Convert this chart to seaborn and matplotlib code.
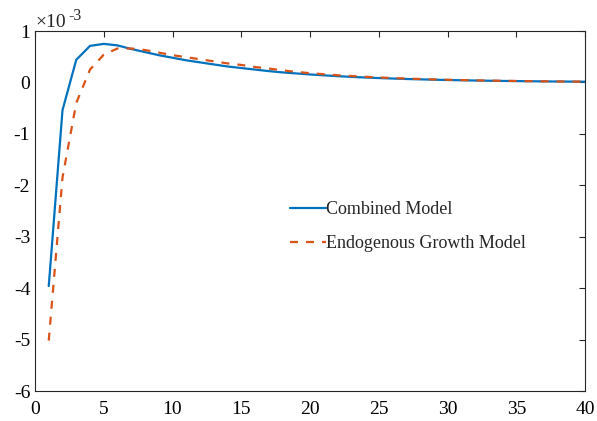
import numpy as np
import pandas as pd
import matplotlib
matplotlib.use("Agg")
import matplotlib.pyplot as plt
import seaborn as sns

# Impulse responses (units of 1e-3), periods 1..40
periods = list(range(1, 41))
combined = [-3.96, -0.54, 0.44, 0.71, 0.75, 0.72, 0.65, 0.59, 0.53, 0.48,
            0.43, 0.39, 0.35, 0.31, 0.28, 0.25, 0.22, 0.195, 0.175, 0.155,
            0.138, 0.122, 0.108, 0.096, 0.085, 0.076, 0.067, 0.060, 0.053, 0.047,
            0.042, 0.037, 0.033, 0.029, 0.026, 0.023, 0.020, 0.018, 0.016, 0.014]
endogenous = [-5.02, -1.85, -0.40, 0.25, 0.54, 0.66, 0.66, 0.63, 0.58, 0.53,
              0.49, 0.45, 0.41, 0.37, 0.34, 0.30, 0.27, 0.235, 0.205, 0.18,
              0.16, 0.14, 0.125, 0.11, 0.097, 0.086, 0.076, 0.067, 0.059, 0.052,
              0.046, 0.041, 0.036, 0.032, 0.028, 0.025, 0.022, 0.019, 0.017, 0.015]
series_names = ["Combined Model", "Endogenous Growth Model"]
x_ticks = [0, 5, 10, 15, 20, 25, 30, 35, 40]
y_ticks = [-6, -5, -4, -3, -2, -1, 0, 1]

sns.set_style("white")
plt.rcParams["font.family"] = ["Liberation Serif", "DejaVu Serif"]
plt.rcParams["axes.unicode_minus"] = False

df = pd.DataFrame({
    "period": periods * 2,
    "value": combined + endogenous,
    "model": [series_names[0]] * len(periods) + [series_names[1]] * len(periods),
})

fig = plt.figure(figsize=(5.97, 4.21), dpi=100)
ax = fig.add_axes([35 / 597, 1 - 391 / 421, 550 / 597, 360 / 421])

palette = {series_names[0]: "#0072BD", series_names[1]: "#D95319"}
dashes = {series_names[0]: "", series_names[1]: (3.6, 3.6)}
sns.lineplot(data=df, x="period", y="value", hue="model", style="model",
             palette=palette, dashes=dashes, linewidth=1.6, ax=ax,
             hue_order=series_names, style_order=series_names)

ax.set_xlim(0, 40)
ax.set_ylim(-6, 1)
ax.set_xticks(x_ticks)
ax.set_yticks(y_ticks)
ax.set_xticklabels([str(t) for t in x_ticks])
ax.set_yticklabels([str(t) for t in y_ticks])
ax.set_xlabel("")
ax.set_ylabel("")
for s in ax.spines.values():
    s.set_visible(True)
    s.set_color("#262626")
    s.set_linewidth(0.8)
ax.tick_params(direction="in", length=4, width=0.8, colors="#262626",
               labelsize=14, top=True, right=True, labelcolor="black")
ax.tick_params(axis="x", pad=7)
ax.tick_params(axis="y", pad=3.5)

# exponent label above the y axis
fig.text(35 / 597, 1 - 27 / 421, "\u00d710", fontsize=14, ha="left", va="baseline")
fig.text(68 / 597, 1 - 20 / 421, "-3", fontsize=11.5, ha="left", va="baseline")

handles, labels = ax.get_legend_handles_labels()
leg = ax.legend(handles, labels, loc="upper left",
                bbox_to_anchor=(290 / 597, 1 - 201 / 421),
                bbox_transform=fig.transFigure, frameon=False,
                fontsize=13, handlelength=2.0, handletextpad=0.0,
                labelspacing=0.95, borderpad=0, borderaxespad=0)

fig.savefig("out.png", dpi=100, facecolor="white")
